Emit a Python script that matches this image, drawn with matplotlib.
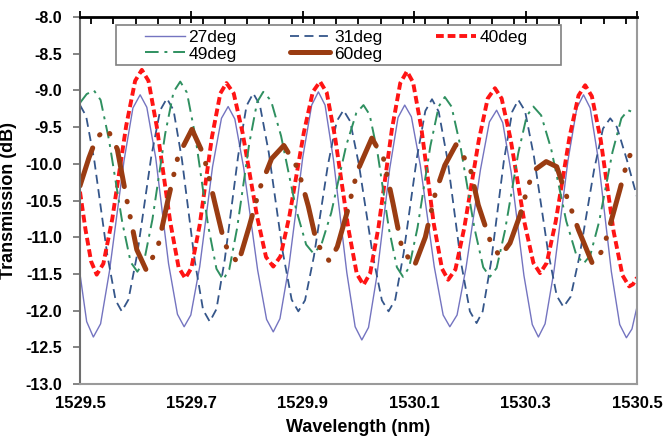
import matplotlib.pyplot as plt
from matplotlib.patches import Rectangle
from matplotlib.ticker import MultipleLocator, FormatStrFormatter

plt.rcParams['font.family'] = ['Liberation Sans', 'DejaVu Sans']

#
# Transmission spectra (wavelength in nm, transmission in dB)
#
x27 = [1529.500, 1529.512, 1529.524,
       1529.537, 1529.553, 1529.579, 1529.595, 1529.608,
       1529.620, 1529.636, 1529.659, 1529.675, 1529.687,
       1529.699, 1529.715, 1529.738, 1529.754, 1529.766,
       1529.778, 1529.794, 1529.819, 1529.835, 1529.847,
       1529.859, 1529.875, 1529.900, 1529.916, 1529.928,
       1529.940, 1529.955, 1529.979, 1529.994, 1530.006,
       1530.018, 1530.033, 1530.056, 1530.071, 1530.083,
       1530.095, 1530.111, 1530.136, 1530.152, 1530.164,
       1530.177, 1530.193, 1530.219, 1530.235, 1530.248,
       1530.259, 1530.274, 1530.297, 1530.312, 1530.323,
       1530.335, 1530.351, 1530.376, 1530.392, 1530.404,
       1530.416, 1530.431, 1530.454, 1530.469, 1530.481,
       1530.491, 1530.500]
y27 = [-11.50, -12.15, -12.36,
       -12.18, -11.46, -9.96, -9.24, -9.06,
       -9.23, -9.92, -11.36, -12.05, -12.22,
       -12.06, -11.40, -10.04, -9.38, -9.22,
       -9.39, -10.06, -11.45, -12.12, -12.29,
       -12.11, -11.40, -9.91, -9.20, -9.02,
       -9.20, -9.94, -11.48, -12.22, -12.40,
       -12.23, -11.53, -10.07, -9.37, -9.20,
       -9.36, -10.02, -11.40, -12.06, -12.22,
       -12.06, -11.42, -10.08, -9.43, -9.27,
       -9.44, -10.11, -11.52, -12.19, -12.36,
       -12.18, -11.46, -9.96, -9.24, -9.06,
       -9.24, -9.96, -11.47, -12.19, -12.37,
       -12.25, -11.95]

x31 = [1529.500, 1529.511, 1529.526, 1529.549, 1529.564, 1529.575,
       1529.587, 1529.603, 1529.628, 1529.644, 1529.656,
       1529.668, 1529.683, 1529.706, 1529.721, 1529.733,
       1529.745, 1529.760, 1529.784, 1529.799, 1529.811,
       1529.823, 1529.839, 1529.864, 1529.880, 1529.892,
       1529.904, 1529.920, 1529.945, 1529.961, 1529.973,
       1529.985, 1530.001, 1530.026, 1530.042, 1530.054,
       1530.066, 1530.081, 1530.105, 1530.120, 1530.132,
       1530.144, 1530.160, 1530.184, 1530.200, 1530.212,
       1530.223, 1530.238, 1530.261, 1530.276, 1530.287,
       1530.299, 1530.315, 1530.340, 1530.356, 1530.368,
       1530.381, 1530.397, 1530.423, 1530.439, 1530.452,
       1530.464, 1530.482, 1530.500]
y31 = [-9.20, -9.35, -9.97, -11.24, -11.86, -12.01,
       -11.85, -11.22, -9.90, -9.27, -9.11,
       -9.27, -9.94, -11.32, -11.99, -12.15,
       -11.98, -11.30, -9.89, -9.21, -9.04,
       -9.20, -9.85, -11.20, -11.85, -12.01,
       -11.86, -11.26, -10.02, -9.42, -9.27,
       -9.42, -10.02, -11.26, -11.86, -12.01,
       -11.85, -11.22, -9.91, -9.28, -9.12,
       -9.29, -9.95, -11.34, -12.01, -12.17,
       -12.01, -11.34, -9.96, -9.29, -9.13,
       -9.28, -9.90, -11.18, -11.80, -11.95,
       -11.81, -11.25, -10.08, -9.52, -9.38,
       -9.50, -9.95, -10.45]

x40 = [1529.500, 1529.510, 1529.520, 1529.530,
       1529.542, 1529.558, 1529.583, 1529.599, 1529.611,
       1529.623, 1529.638, 1529.662, 1529.677, 1529.689,
       1529.700, 1529.715, 1529.737, 1529.752, 1529.763,
       1529.776, 1529.792, 1529.818, 1529.834, 1529.847,
       1529.860, 1529.876, 1529.902, 1529.918, 1529.931,
       1529.943, 1529.958, 1529.982, 1529.997, 1530.009,
       1530.021, 1530.036, 1530.060, 1530.075, 1530.087,
       1530.098, 1530.113, 1530.135, 1530.150, 1530.161,
       1530.174, 1530.190, 1530.216, 1530.232, 1530.245,
       1530.257, 1530.273, 1530.298, 1530.314, 1530.326,
       1530.338, 1530.354, 1530.379, 1530.395, 1530.407,
       1530.419, 1530.435, 1530.458, 1530.474, 1530.486,
       1530.493, 1530.500]
y40 = [-10.38, -10.90, -11.33, -11.51,
       -11.36, -10.75, -9.48, -8.87, -8.72,
       -8.87, -9.50, -10.79, -11.41, -11.56,
       -11.42, -10.83, -9.63, -9.04, -8.90,
       -9.04, -9.58, -10.72, -11.27, -11.40,
       -11.26, -10.71, -9.57, -9.02, -8.88,
       -9.03, -9.64, -10.89, -11.50, -11.65,
       -11.49, -10.86, -9.53, -8.90, -8.74,
       -8.89, -9.52, -10.81, -11.43, -11.58,
       -11.44, -10.87, -9.68, -9.11, -8.97,
       -9.11, -9.66, -10.80, -11.35, -11.49,
       -11.35, -10.79, -9.63, -9.07, -8.93,
       -9.08, -9.68, -10.92, -11.52, -11.67,
       -11.64, -11.55]

x49 = [1529.500, 1529.512, 1529.525,
       1529.537, 1529.552, 1529.576, 1529.591, 1529.603,
       1529.615, 1529.630, 1529.653, 1529.668, 1529.680,
       1529.692, 1529.707, 1529.730, 1529.745, 1529.757,
       1529.768, 1529.782, 1529.804, 1529.818, 1529.829,
       1529.843, 1529.861, 1529.888, 1529.906, 1529.919,
       1529.933, 1529.951, 1529.978, 1529.996, 1530.009,
       1530.020, 1530.034, 1530.055, 1530.069, 1530.080,
       1530.091, 1530.106, 1530.129, 1530.144, 1530.155,
       1530.167, 1530.183, 1530.208, 1530.224, 1530.236,
       1530.248, 1530.263, 1530.287, 1530.302, 1530.314,
       1530.328, 1530.346, 1530.373, 1530.391, 1530.404,
       1530.416, 1530.432, 1530.456, 1530.472, 1530.484,
       1530.500]
y49 = [-9.17, -9.05, -9.00,
       -9.13, -9.67, -10.80, -11.34, -11.47,
       -11.33, -10.76, -9.59, -9.02, -8.88,
       -9.03, -9.62, -10.84, -11.43, -11.58,
       -11.44, -10.88, -9.72, -9.16, -9.02,
       -9.14, -9.62, -10.62, -11.10, -11.22,
       -11.11, -10.67, -9.75, -9.31, -9.20,
       -9.33, -9.84, -10.90, -11.41, -11.54,
       -11.41, -10.87, -9.76, -9.22, -9.09,
       -9.22, -9.76, -10.87, -11.41, -11.54,
       -11.42, -10.91, -9.85, -9.35, -9.22,
       -9.34, -9.80, -10.78, -11.24, -11.36,
       -11.25, -10.79, -9.84, -9.38, -9.27,
       -9.32]

x60 = [1529.500, 1529.516, 1529.530, 1529.549, 1529.567, 1529.584, 1529.602, 1529.619, 1529.640,
       1529.658, 1529.676, 1529.701, 1529.722, 1529.742, 1529.760, 1529.784, 1529.804, 1529.823,
       1529.844, 1529.866, 1529.891, 1529.910, 1529.925, 1529.948, 1529.962, 1529.980, 1529.998,
       1530.024, 1530.045, 1530.062, 1530.078, 1530.100, 1530.120, 1530.138, 1530.155, 1530.175,
       1530.200, 1530.215, 1530.236, 1530.254, 1530.272, 1530.290, 1530.305, 1530.317, 1530.337,
       1530.356, 1530.374, 1530.395, 1530.420, 1530.439, 1530.454, 1530.469, 1530.484, 1530.500]
y60 = [-10.30, -9.92, -9.64, -9.52, -9.80, -10.49, -11.17, -11.45, -11.13, -10.49, -9.90, -9.53,
       -9.88, -10.53, -11.10, -11.36, -10.85, -10.33, -9.93, -9.75, -10.06, -10.58, -11.08, -11.33,
       -11.13, -10.65, -10.10, -9.65, -9.93, -10.54, -11.15, -11.40, -11.00, -10.40, -10.02, -9.74,
       -10.04, -10.56, -11.04, -11.27, -11.08, -10.70, -10.29, -10.08, -9.97, -10.04, -10.45, -10.90,
       -11.36, -11.17, -10.77, -10.36, -9.93, -9.72]

labels = ['27deg', '31deg', '40deg', '49deg', '60deg']
x_ticks = [1529.5, 1529.7, 1529.9, 1530.1, 1530.3, 1530.5]

#
# Plot the spectra
#
fig = plt.figure(figsize=(6.71, 4.43), dpi=100)
ax = fig.add_axes([0.1192, 0.1332, 0.8301, 0.8284])

l27, = ax.plot(x27, y27, color='#7474c0', lw=1.0, label=labels[0])
l31, = ax.plot(x31, y31, color='#35568a', lw=1.3, dashes=(5, 3), label=labels[1])
l40, = ax.plot(x40, y40, color='#ff1414', lw=2.8, dashes=(2, 1), label=labels[2])
l49, = ax.plot(x49, y49, color='#2f9060', lw=1.4, dashes=(7, 3, 1.5, 3), label=labels[3])
l60, = ax.plot(x60, y60, color='#9a3c12', lw=3.6, dashes=(8, 3, 0.1, 3, 0.1, 3),
               dash_capstyle='round', label=labels[4])

ax.set_xlim(1529.5, 1530.5)
ax.set_ylim(-13.0, -8.0)
ax.set_xticks(x_ticks)
ax.xaxis.set_minor_locator(MultipleLocator(0.04))
ax.yaxis.set_major_locator(MultipleLocator(0.5))
ax.xaxis.set_major_formatter(FormatStrFormatter('%.1f'))
ax.yaxis.set_major_formatter(FormatStrFormatter('%.1f'))

ax.tick_params(axis='x', which='major', top=True, bottom=False, labeltop=False, labelbottom=True,
               direction='inout', length=9, width=1.3, color='black', pad=4, labelsize=12)
ax.tick_params(axis='x', which='minor', top=True, bottom=False, direction='in', length=5,
               width=1.3, color='black')
ax.tick_params(axis='y', which='major', direction='out', length=5, width=1.2, color='#707070',
               pad=8, labelsize=11.5)
for lab in ax.get_xticklabels() + ax.get_yticklabels():
    lab.set_fontweight('bold')

ax.spines['top'].set_color('black')
ax.spines['top'].set_linewidth(2.0)
ax.spines['left'].set_color('#6e6e6e')
ax.spines['left'].set_linewidth(1.5)
for s in ['bottom', 'right']:
    ax.spines[s].set_color('#9a9a9a')
    ax.spines[s].set_linewidth(1.5)

ax.set_xlabel('Wavelength (nm)', fontsize=13, fontweight='bold', labelpad=6)
ax.set_ylabel('Transmission (dB)', fontsize=13, fontweight='bold', labelpad=6)

# legend box, filled row by row like the original
ax.add_patch(Rectangle((0.0646, 0.869), 0.799, 0.109, transform=ax.transAxes,
                       facecolor='white', edgecolor='#808080', lw=1.2, zorder=4))
leg = ax.legend([l27, l49, l31, l60, l40], [labels[0], labels[3], labels[1], labels[4], labels[2]],
                ncol=3, loc='upper left', bbox_to_anchor=(0.1167, 0.966), frameon=False,
                fontsize=12.5, handlelength=2.3, handletextpad=0.2, labelspacing=0.1,
                columnspacing=3.1, borderpad=0, borderaxespad=0)
leg.set_zorder(5)

fig.savefig('out.png', dpi=100)
